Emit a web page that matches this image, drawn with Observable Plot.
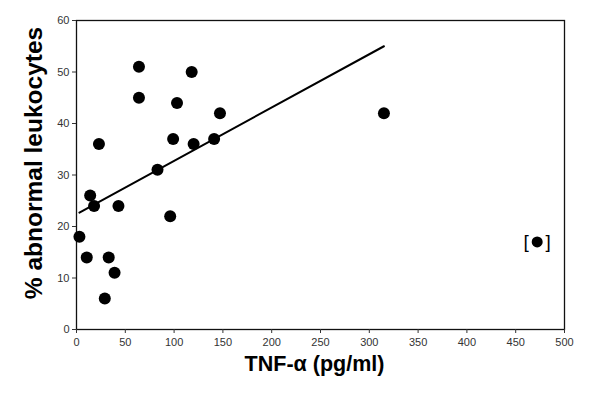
<!DOCTYPE html>
<html>
<head>
<meta charset="utf-8">
<script src="https://cdn.jsdelivr.net/npm/d3@7"></script>
<script src="https://cdn.jsdelivr.net/npm/@observablehq/plot@0.6"></script>
<style>
  html, body { margin: 0; padding: 0; background: #fff; }
</style>
</head>
<body>
<div id="chart"></div>
<script>
// TNF-alpha (pg/ml) vs % abnormal leukocytes
const tnf = [3, 10.5, 14, 18, 23, 29, 33, 39, 43, 64, 64, 83, 96, 99, 103, 118, 120, 141, 147, 315];
const abnormal = [18, 14, 26, 24, 36, 6, 14, 11, 24, 51, 45, 31, 22, 37, 44, 50, 36, 37, 42, 42];
// excluded outlier (shown in brackets)
const outlierTnf = [472];
const outlierAbnormal = [17];
// regression line endpoints
const fitX = [3, 315];
const fitY = [22.7, 55];
const xTicks = [0, 50, 100, 150, 200, 250, 300, 350, 400, 450, 500];
const yTicks = [0, 10, 20, 30, 40, 50, 60];
const xTitle = "TNF-α (pg/ml)";
const yTitle = "% abnormal leukocytes";

const points = tnf.map((x, i) => ({x, y: abnormal[i]}));
const outliers = outlierTnf.map((x, i) => ({x, y: outlierAbnormal[i]}));
const fit = fitX.map((x, i) => ({x, y: fitY[i]}));

const chart = Plot.plot({
  width: 600,
  height: 409,
  marginLeft: 76,
  marginRight: 36,
  marginTop: 20,
  marginBottom: 80,
  style: {fontFamily: "Liberation Sans, Arial, sans-serif", background: "#fff"},
  x: {domain: [0, 500], label: null},
  y: {domain: [0, 60], label: null},
  marks: [
    Plot.frame({stroke: "#111", strokeWidth: 1.3}),
    Plot.axisX({ticks: xTicks, tickSize: 4, tickPadding: 5, fontSize: 11, color: "#333", label: null}),
    Plot.axisY({ticks: yTicks, tickSize: 4, tickPadding: 3, fontSize: 11, color: "#333", label: null}),
    Plot.line(fit, {x: "x", y: "y", stroke: "#000", strokeWidth: 2}),
    Plot.dot(points, {x: "x", y: "y", r: 6, fill: "#000", stroke: null}),
    Plot.dot(outliers, {x: "x", y: "y", r: 5.5, fill: "#000", stroke: null}),
    Plot.text(outliers, {x: "x", y: "y", text: () => "[", dx: -11, fontSize: 19, fill: "#000"}),
    Plot.text(outliers, {x: "x", y: "y", text: () => "]", dx: 11, fontSize: 19, fill: "#000"}),
    Plot.text([xTitle], {text: d => d, frameAnchor: "bottom", textAnchor: "middle", dx: -6, dy: 41, fontSize: 21.5, fontWeight: "bold", fill: "#000"}),
    Plot.text([yTitle], {text: d => d, frameAnchor: "left", textAnchor: "middle", rotate: -90, dx: -42, dy: -12, fontSize: 24.5, fontWeight: "bold", fill: "#000"})
  ]
});
document.getElementById("chart").appendChild(chart);
</script>
</body>
</html>
